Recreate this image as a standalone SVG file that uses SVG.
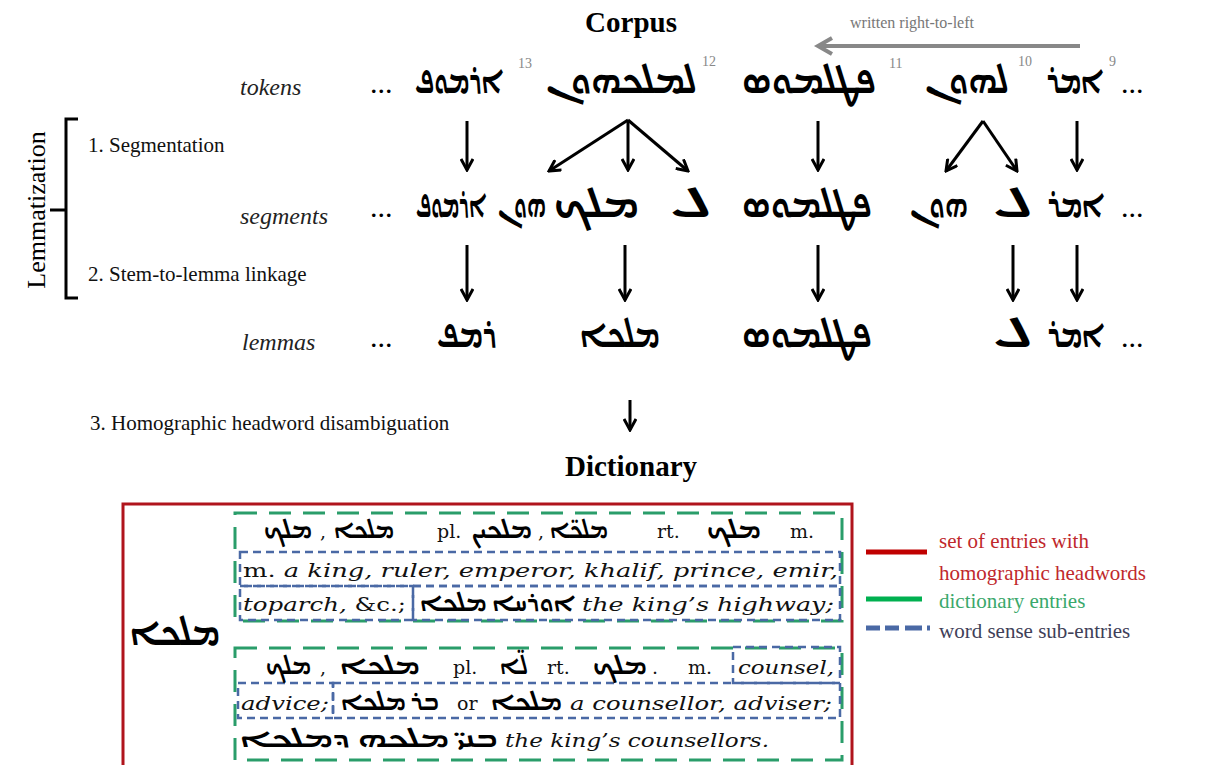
<svg xmlns="http://www.w3.org/2000/svg" width="1211" height="765" viewBox="0 0 1211 765">
<style>
.t{font-family:"Liberation Serif","Times New Roman",serif;fill:#000}
.ti{font-family:"Liberation Serif","Times New Roman",serif;font-style:italic;font-size:24px;fill:#222}
.h{font-family:"Liberation Serif","Times New Roman",serif;font-weight:bold;font-size:29px;fill:#000}
.st{font-family:"Liberation Serif","Times New Roman",serif;font-size:21px;fill:#111}
.sy{font-family:"Noto Sans Syriac","Estrangelo Edessa","DejaVu Sans",sans-serif;font-size:38px;font-weight:bold;fill:#000}
.sup{font-family:"Liberation Serif",serif;font-size:14px;fill:#888}
.dots{font-family:"Liberation Serif",serif;font-size:30px;fill:#000}
.d{font-family:"DejaVu Serif","Liberation Serif",serif;font-size:19px;fill:#111}
.di{font-family:"DejaVu Serif","Liberation Serif",serif;font-style:italic;font-size:19px;fill:#111}
.ds{font-family:"Noto Sans Syriac","DejaVu Sans",sans-serif;font-size:25px;fill:#000;font-weight:bold}
.arr{stroke:#000;stroke-width:3;fill:none;marker-end:url(#ah)}
.g{fill:none;stroke:#2a9d6a;stroke-width:3;stroke-dasharray:22 12}
.b{fill:none;stroke:#4a69a5;stroke-width:2.5;stroke-dasharray:8 5}
</style>
<defs>
<marker id="ah" viewBox="0 0 14 14" refX="12" refY="7" markerWidth="14" markerHeight="14" markerUnits="userSpaceOnUse" orient="auto">
<path d="M1,1 L12,7 L1,13" fill="none" stroke="#000" stroke-width="3"/>
</marker>
</defs>
<rect width="1211" height="765" fill="#fff"/>

<g id="headers">
<text class="h" x="631" y="32" text-anchor="middle">Corpus</text>
<text class="h" x="631" y="476" text-anchor="middle">Dictionary</text>
</g>

<g id="direction">
<text class="t" x="850" y="28" font-size="16" style="fill:#777">written  right-to-left</text>
<line x1="1080" y1="46" x2="820" y2="46" stroke="#888" stroke-width="4"/>
<polyline points="832,38 818,46 832,54" fill="none" stroke="#888" stroke-width="4"/>
</g>

<g id="lemmatization">
<path d="M78,119 L66,119 L66,298 L78,298 M66,210 L50,210" fill="none" stroke="#000" stroke-width="3"/>
<text class="t" font-size="26" transform="translate(45,210) rotate(-90)" text-anchor="middle">Lemmatization</text>
<text class="st" x="88" y="152">1. Segmentation</text>
<text class="st" x="88" y="281">2. Stem-to-lemma linkage</text>
<text class="st" x="90" y="430">3. Homographic headword disambiguation</text>
</g>

<g id="row-tokens">
<text class="ti" x="240" y="95">tokens</text>
<text class="dots" x="370" y="93">...</text>
<text class="sy" x="415" y="93" textLength="88" lengthAdjust="spacingAndGlyphs">ܐܪܡܘܦ</text>
<text class="sup" x="518" y="68">13</text>
<text class="sy" x="546" y="93" textLength="151" lengthAdjust="spacingAndGlyphs">ܠܡܠܟܗܘܢ</text>
<text class="sup" x="702" y="66">12</text>
<text class="sy" x="742" y="93" textLength="134" lengthAdjust="spacingAndGlyphs">ܦܛܠܡܘܣ</text>
<text class="sup" x="889" y="68">11</text>
<text class="sy" x="925" y="93" textLength="84" lengthAdjust="spacingAndGlyphs">ܠܗܘܢ</text>
<text class="sup" x="1018" y="66">10</text>
<text class="sy" x="1047" y="93" textLength="56" lengthAdjust="spacingAndGlyphs">ܐܡܪ</text>
<text class="sup" x="1109" y="66">9</text>
<text class="dots" x="1121" y="93">...</text>
</g>

<g id="row-segments">
<text class="ti" x="240" y="224">segments</text>
<text class="dots" x="370" y="217">...</text>
<text class="sy" x="416" y="217" textLength="70" lengthAdjust="spacingAndGlyphs">ܐܪܡܘܦ</text>
<text class="sy" x="498" y="217" textLength="48" lengthAdjust="spacingAndGlyphs">ܗܘܢ</text>
<text class="sy" x="554" y="217" textLength="85" lengthAdjust="spacingAndGlyphs">ܡܠܟ</text>
<text class="sy" x="670" y="217" textLength="42" lengthAdjust="spacingAndGlyphs">ܠ</text>
<text class="sy" x="742" y="217" textLength="130" lengthAdjust="spacingAndGlyphs">ܦܛܠܡܘܣ</text>
<text class="sy" x="910" y="217" textLength="58" lengthAdjust="spacingAndGlyphs">ܗܘܢ</text>
<text class="sy" x="993" y="217" textLength="40" lengthAdjust="spacingAndGlyphs">ܠ</text>
<text class="sy" x="1048" y="217" textLength="56" lengthAdjust="spacingAndGlyphs">ܐܡܪ</text>
<text class="dots" x="1121" y="217">...</text>
</g>

<g id="row-lemmas">
<text class="ti" x="242" y="350">lemmas</text>
<text class="dots" x="370" y="347">...</text>
<text class="sy" x="437" y="347" textLength="60" lengthAdjust="spacingAndGlyphs">ܪܡܦ</text>
<text class="sy" x="580" y="347" textLength="80" lengthAdjust="spacingAndGlyphs">ܡܠܟܐ</text>
<text class="sy" x="742" y="347" textLength="130" lengthAdjust="spacingAndGlyphs">ܦܛܠܡܘܣ</text>
<text class="sy" x="993" y="347" textLength="40" lengthAdjust="spacingAndGlyphs">ܠ</text>
<text class="sy" x="1048" y="347" textLength="56" lengthAdjust="spacingAndGlyphs">ܐܡܪ</text>
<text class="dots" x="1121" y="347">...</text>
</g>

<g id="connectors">
<line class="arr" x1="467" y1="121" x2="467" y2="170"/>
<line class="arr" x1="628" y1="120" x2="549" y2="171"/>
<line class="arr" x1="628" y1="120" x2="628" y2="170"/>
<line class="arr" x1="628" y1="120" x2="688" y2="171"/>
<line class="arr" x1="818" y1="121" x2="818" y2="170"/>
<line class="arr" x1="983" y1="121" x2="946" y2="171"/>
<line class="arr" x1="983" y1="121" x2="1017" y2="171"/>
<line class="arr" x1="1077" y1="121" x2="1077" y2="170"/>
<line class="arr" x1="467" y1="245" x2="467" y2="300"/>
<line class="arr" x1="625" y1="245" x2="625" y2="300"/>
<line class="arr" x1="818" y1="245" x2="818" y2="300"/>
<line class="arr" x1="1013" y1="245" x2="1013" y2="300"/>
<line class="arr" x1="1077" y1="245" x2="1077" y2="300"/>
<line class="arr" x1="630" y1="400" x2="630" y2="430"/>
</g>

<g id="dictionary">
<rect x="123" y="504" width="729" height="275" fill="none" stroke="#b0141c" stroke-width="3"/>
<text class="sy" x="130" y="645" textLength="90" lengthAdjust="spacingAndGlyphs">ܡܠܟܐ</text>
<rect class="g" x="235" y="513" width="607" height="108"/>
<rect class="g" x="235" y="648" width="607" height="112"/>
<rect class="b" x="240" y="552" width="600" height="34"/>
<rect class="b" x="240" y="586" width="173" height="34"/>
<rect class="b" x="413" y="586" width="427" height="34"/>
<rect class="b" x="733" y="647" width="107" height="36"/>
<rect class="b" x="238" y="683" width="95" height="35"/>
<rect class="b" x="333" y="683" width="507" height="35"/>

<text class="ds" x="264" y="538" textLength="48" lengthAdjust="spacingAndGlyphs">ܡܠܟ</text>
<text class="d" x="320" y="538">,</text>
<text class="ds" x="334" y="538" textLength="60" lengthAdjust="spacingAndGlyphs">ܡܠܟܐ</text>
<text class="d" x="437" y="538">pl.</text>
<text class="ds" x="472" y="538" textLength="60" lengthAdjust="spacingAndGlyphs">ܡܠܟܝܢ</text>
<text class="d" x="538" y="538">,</text>
<text class="ds" x="550" y="538" textLength="58" lengthAdjust="spacingAndGlyphs">ܡܠܟ̈ܐ</text>
<text class="d" x="657" y="538">rt.</text>
<text class="ds" x="707" y="538" textLength="54" lengthAdjust="spacingAndGlyphs">ܡܠܟ</text>
<text class="d" x="790" y="538">m.</text>

<text class="di" x="243" y="577" textLength="595" lengthAdjust="spacingAndGlyphs"><tspan font-style="normal">m.</tspan> a king, ruler, emperor, khalif, prince, emir,</text>
<text class="di" x="243" y="611" textLength="163" lengthAdjust="spacingAndGlyphs">toparch, <tspan font-style="normal">&amp;c.;</tspan></text>
<text class="ds" x="420" y="611" textLength="155" lengthAdjust="spacingAndGlyphs">ܐܘܪܚܐ ܡܠܟܐ</text>
<text class="di" x="582" y="611" textLength="252" lengthAdjust="spacingAndGlyphs">the king’s highway;</text>

<text class="ds" x="266" y="674" textLength="45" lengthAdjust="spacingAndGlyphs">ܡܠܟ</text>
<text class="d" x="320" y="674">,</text>
<text class="ds" x="340" y="674" textLength="80" lengthAdjust="spacingAndGlyphs">ܡܠܟܐ</text>
<text class="d" x="453" y="674">pl.</text>
<text class="ds" x="500" y="674" textLength="28" lengthAdjust="spacingAndGlyphs">ܠ̈ܐ</text>
<text class="d" x="547" y="674">rt.</text>
<text class="ds" x="593" y="674" textLength="54" lengthAdjust="spacingAndGlyphs">ܡܠܟ</text>
<text class="d" x="652" y="674">.</text>
<text class="d" x="688" y="674">m.</text>
<text class="di" x="738" y="674" textLength="96" lengthAdjust="spacingAndGlyphs">counsel,</text>

<text class="di" x="241" y="710" textLength="88" lengthAdjust="spacingAndGlyphs">advice;</text>
<text class="ds" x="341" y="710" textLength="98" lengthAdjust="spacingAndGlyphs">ܒܪ ܡܠܟܐ</text>
<text class="d" x="457" y="710">or</text>
<text class="ds" x="491" y="710" textLength="71" lengthAdjust="spacingAndGlyphs">ܡܠܟܐ</text>
<text class="di" x="570" y="710" textLength="262" lengthAdjust="spacingAndGlyphs">a counsellor, adviser;</text>

<text class="ds" x="240" y="747" textLength="258" lengthAdjust="spacingAndGlyphs">ܒܢܝ̈ ܡܠܟܗ ܕܡܠܟܐ</text>
<text class="di" x="505" y="747" textLength="264" lengthAdjust="spacingAndGlyphs">the king’s counsellors.</text>
</g>

<g id="legend">
<line x1="866" y1="552" x2="927" y2="552" stroke="#c00000" stroke-width="5"/>
<text class="t" x="939" y="548" font-size="21" style="fill:#c0282c">set of entries with</text>
<text class="t" x="939" y="580" font-size="21" style="fill:#c0282c">homographic headwords</text>
<line x1="866" y1="599" x2="922" y2="599" stroke="#00b050" stroke-width="5"/>
<text class="t" x="939" y="608" font-size="21" style="fill:#3aa86b">dictionary entries</text>
<line x1="866" y1="628" x2="930" y2="628" stroke="#4a69a5" stroke-width="5" stroke-dasharray="14 5 14 6 3 0"/>
<text class="t" x="939" y="638" font-size="21" style="fill:#404058">word sense sub-entries</text>
</g>
</svg>
